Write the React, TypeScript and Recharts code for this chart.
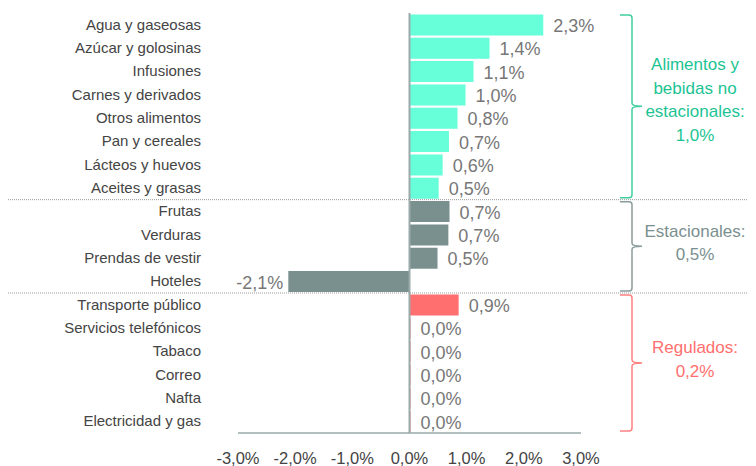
import React from 'react';
import { BarChart, Bar, XAxis, YAxis, Cell, LabelList, ReferenceLine, ReferenceArea } from 'recharts';

const categories = [
  'Agua y gaseosas', 'Azúcar y golosinas', 'Infusiones', 'Carnes y derivados', 'Otros alimentos',
  'Pan y cereales', 'Lácteos y huevos', 'Aceites y grasas',
  'Frutas', 'Verduras', 'Prendas de vestir', 'Hoteles',
  'Transporte público', 'Servicios telefónicos', 'Tabaco', 'Correo', 'Nafta', 'Electricidad y gas',
];
const values = [2.34, 1.4, 1.12, 0.98, 0.84, 0.69, 0.58, 0.51, 0.7, 0.68, 0.49, -2.12, 0.86, 0, 0, 0, 0, 0];
const groupOf = [0, 0, 0, 0, 0, 0, 0, 0, 1, 1, 1, 1, 2, 2, 2, 2, 2, 2];
const groupFirst = ['Agua y gaseosas', 'Frutas', 'Transporte público'];
const groupLast = ['Aceites y grasas', 'Hoteles', 'Electricidad y gas'];
const groupLines = [
  ['Alimentos y', 'bebidas no', 'estacionales:', '1,0%'],
  ['Estacionales:', '0,5%'],
  ['Regulados:', '0,2%'],
];
const xTicks = [-3, -2, -1, 0, 1, 2, 3];

const barColors = ['#66ffd9', '#7a908f', '#ff6f6f'];
const textColors = ['#1cc493', '#7a908f', '#ff6f6f'];
const bracketColors = ['#3fcf9f', '#8a9c9b', '#ff8080'];

const FONT = '"Liberation Sans", Arial, sans-serif';
const fmt = (v: number) => v.toFixed(1).replace('.', ',') + '%';

const data = categories.map((name, i) => ({ name, value: values[i], group: groupOf[i] }));

const XTick = (props: any) => {
  const { x, y, payload } = props;
  return (
    <text x={x} y={y + 31} textAnchor="middle" fontSize={16.5} fill="#444" fontFamily={FONT}>
      {fmt(payload.value)}
    </text>
  );
};

const YTick = (props: any) => {
  const { x, y, payload } = props;
  return (
    <text x={x - 37} y={y + 5} textAnchor="end" fontSize={15} fill="#444" fontFamily={FONT}>
      {payload.value}
    </text>
  );
};

const ValueLabel = (props: any) => {
  const { x, y, width, height, value } = props;
  const left = Math.min(x, x + width);
  const right = Math.max(x, x + width);
  const cy = y + height / 2;
  if (value < 0) {
    return (
      <text x={left - 5} y={cy + 7} textAnchor="end" fontSize={18} fill="#777" fontFamily={FONT}>
        {fmt(value)}
      </text>
    );
  }
  return (
    <text x={right + 10} y={cy + 7} textAnchor="start" fontSize={18} fill="#777" fontFamily={FONT}>
      {fmt(value)}
    </text>
  );
};

const makeGroupShape = (g: number) => (props: any) => {
  const { x, y, width, height } = props;
  const bx = x + width + 51;
  const top = y + 2;
  const bot = y + height - 2;
  const mid = y + height / 2;
  const d = [
    `M ${bx - 12} ${top} L ${bx - 3} ${top} Q ${bx} ${top} ${bx} ${top + 3} L ${bx} ${mid - 3} Q ${bx} ${mid} ${bx + 10} ${mid}`,
    `M ${bx + 10} ${mid} Q ${bx} ${mid} ${bx} ${mid + 3} L ${bx} ${bot - 3} Q ${bx} ${bot} ${bx - 3} ${bot} L ${bx - 12} ${bot}`,
  ].join(' ');
  const lines = groupLines[g];
  const lh = 23.5;
  const tc = mid - (lines.length > 2 ? 7 : 4);
  const startY = tc - ((lines.length - 1) * lh) / 2;
  return (
    <g>
      {g > 0 && (
        <line x1={8} x2={756} y1={y} y2={y} stroke="#9a9a9a" strokeWidth={1} strokeDasharray="1 1" />
      )}
      <path d={d} fill="none" stroke={bracketColors[g]} strokeWidth={1.5} />
      {lines.map((t, i) => (
        <text
          key={i}
          x={x + width + 114}
          y={startY + i * lh + 6}
          textAnchor="middle"
          fontSize={17}
          fill={textColors[g]}
          fontFamily={FONT}
        >
          {t}
        </text>
      ))}
    </g>
  );
};

export default function App() {
  return (
    <div style={{ width: 756, height: 466, margin: '-8px 0 0 -8px', background: '#fff' }}>
      <BarChart
        width={756}
        height={466}
        data={data}
        layout="vertical"
        margin={{ top: 13, right: 175, bottom: 0, left: 0 }}
        barCategoryGap="6%"
      >
        <XAxis
          type="number"
          domain={[-3, 3]}
          ticks={xTicks}
          height={33}
          axisLine={{ stroke: '#9aa9a9', strokeWidth: 1.5 }}
          tickLine={false}
          tickSize={0}
          tickMargin={0}
          tick={<XTick />}
          interval={0}
        />
        <YAxis
          type="category"
          dataKey="name"
          width={238}
          axisLine={false}
          tickLine={false}
          tickSize={0}
          tickMargin={0}
          tick={<YTick />}
          interval={0}
        />
        {groupFirst.map((f, g) => (
          <ReferenceArea
            key={g}
            y1={f}
            y2={groupLast[g]}
            ifOverflow="visible"
            shape={makeGroupShape(g)}
          />
        ))}
        <Bar dataKey="value" isAnimationActive={false} minPointSize={1}>
          {data.map((d, i) => (
            <Cell key={i} fill={barColors[d.group]} />
          ))}
          <LabelList dataKey="value" content={<ValueLabel />} />
        </Bar>
        <ReferenceLine x={0} stroke="#9aa9a9" strokeWidth={2} ifOverflow="visible" />
      </BarChart>
    </div>
  );
}
